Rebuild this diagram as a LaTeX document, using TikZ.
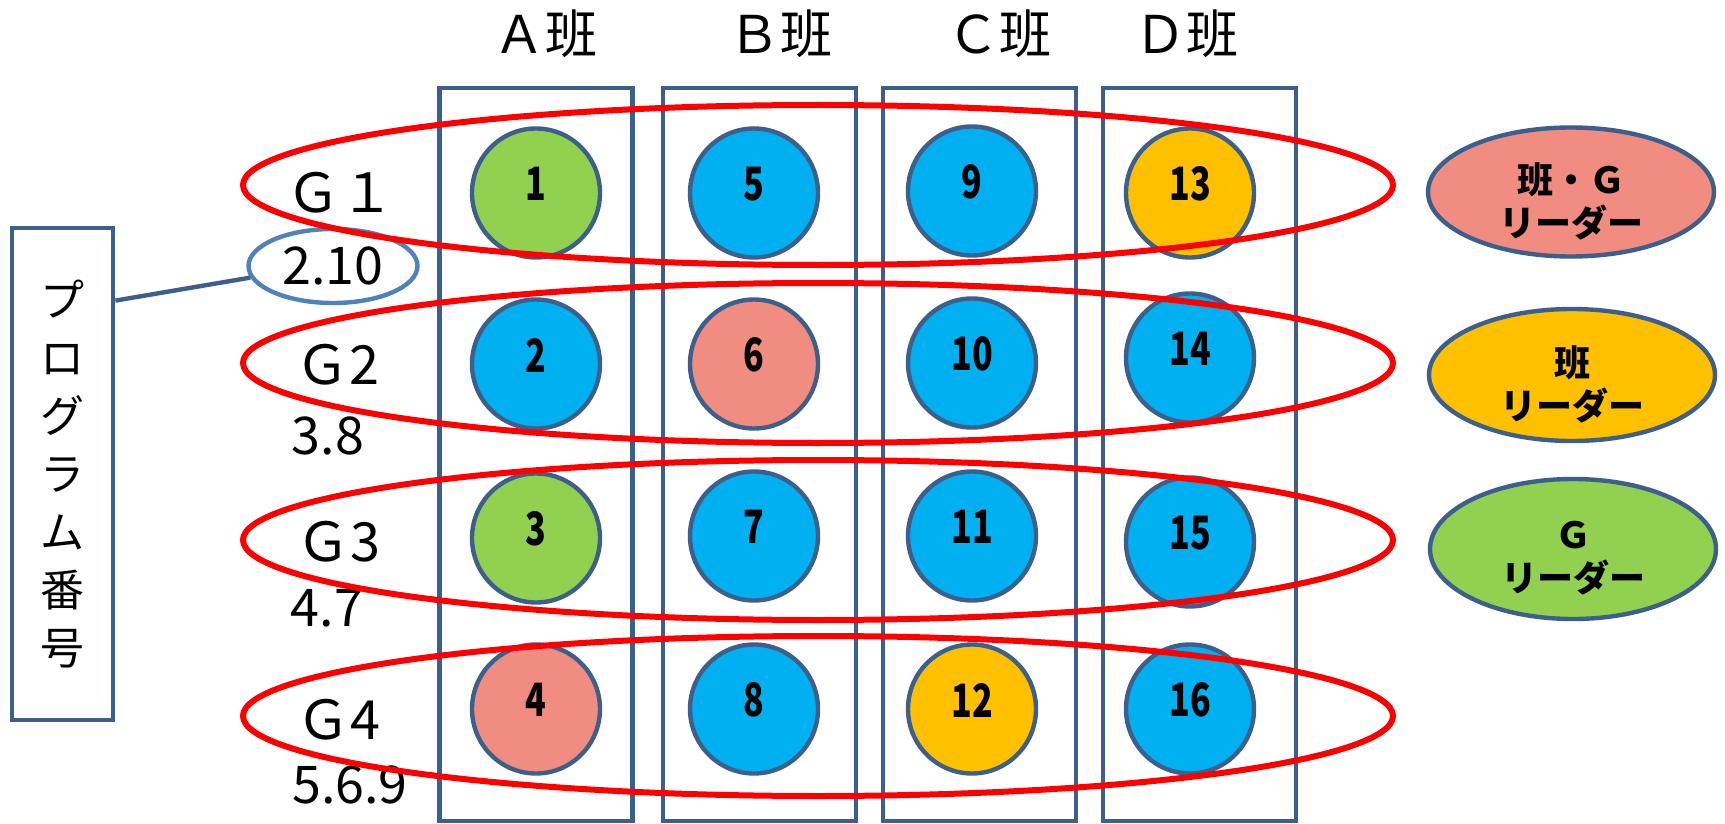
\documentclass[tikz,border=0pt]{standalone}
\usepackage{fontspec}
\usepackage{graphicx}
\setmainfont{Noto Sans CJK JP}
\usetikzlibrary{shapes.geometric}
\definecolor{edgeblue}{HTML}{3D5F8C}
\definecolor{lightedge}{HTML}{4F81BD}
\definecolor{cyanf}{HTML}{00B0F0}
\definecolor{greenf}{HTML}{92D050}
\definecolor{salmonf}{HTML}{F08C80}
\definecolor{orangef}{HTML}{FFC000}
\definecolor{redl}{HTML}{FF0000}
\newcommand{\nmq}[1]{\scalebox{0.74}[1]{#1}}
\begin{document}
\begin{tikzpicture}[x=0.5pt,y=-0.5pt,
  colbox/.style={draw=edgeblue,line width=2.4pt,minimum width=96.5pt,minimum height=366.5pt,inner sep=0pt},
  mem/.style={ellipse,draw=edgeblue,line width=2.2pt,minimum width=64pt,minimum height=64.5pt,inner sep=0pt},
  num/.style={font=\bfseries\fontsize{23}{23}\selectfont,inner sep=0pt,yshift=4.5pt},
  grp/.style={ellipse,draw=redl,line width=3pt,minimum width=575pt,minimum height=80pt,inner sep=0pt},
  head/.style={font=\fontsize{26}{26}\selectfont,inner sep=0pt},
  glab/.style={font=\fontsize{27}{27}\selectfont,inner sep=0pt},
  plab/.style={font=\fontsize{26}{26}\selectfont,inner sep=0pt},
  leg/.style={ellipse,draw=edgeblue,line width=2.2pt,inner sep=0pt,minimum width=143pt},
  legtxt/.style={font=\bfseries\fontsize{18}{21.5}\selectfont,align=center,inner sep=0pt,yshift=-4.5pt}
]
\fill[white] (0,0) rectangle (1725,824);
\useasboundingbox (0,0) rectangle (1725,824);

% headers
\node[head] (hA) at (545,34) {Ａ班};
\node[head] (hB) at (780,34) {Ｂ班};
\node[head] (hC) at (999,34) {Ｃ班};
\node[head] (hD) at (1186,34) {Ｄ班};

% column boxes
\node[colbox] (bA) at (536,454.5) {};
\node[colbox] (bB) at (759.5,454.5) {};
\node[colbox] (bC) at (979.5,454.5) {};
\node[colbox] (bD) at (1199.5,454.5) {};

% members
\node[mem,fill=greenf,label={[num]center:\nmq{1}}] (m1) at (536,193) {};
\node[mem,fill=cyanf,label={[num]center:\nmq{2}}] (m2) at (536,364) {};
\node[mem,fill=greenf,label={[num]center:\nmq{3}}] (m3) at (536,538) {};
\node[mem,fill=salmonf,label={[num]center:\nmq{4}}] (m4) at (536,709) {};
\node[mem,fill=cyanf,label={[num]center:\nmq{5}}] (m5) at (754,193) {};
\node[mem,fill=salmonf,label={[num]center:\nmq{6}}] (m6) at (754,364) {};
\node[mem,fill=cyanf,label={[num]center:\nmq{7}}] (m7) at (754,536) {};
\node[mem,fill=cyanf,label={[num]center:\nmq{8}}] (m8) at (754,709) {};
\node[mem,fill=cyanf,label={[num]center:\nmq{9}}] (m9) at (972,191) {};
\node[mem,fill=cyanf,label={[num]center:\nmq{10}}] (m10) at (972,363) {};
\node[mem,fill=cyanf,label={[num]center:\nmq{11}}] (m11) at (972,536) {};
\node[mem,fill=orangef,label={[num]center:\nmq{12}}] (m12) at (972,709) {};
\node[mem,fill=orangef,label={[num]center:\nmq{13}}] (m13) at (1190,193) {};
\node[mem,fill=cyanf,label={[num]center:\nmq{14}}] (m14) at (1190,358) {};
\node[mem,fill=cyanf,label={[num]center:\nmq{15}}] (m15) at (1190,542) {};
\node[mem,fill=cyanf,label={[num]center:\nmq{16}}] (m16) at (1190,709) {};

% program number box
\node[draw=edgeblue,line width=2.4pt,minimum width=50.5pt,minimum height=246pt,inner sep=0pt,
      align=center,font=\fontsize{22}{29}\selectfont] (pbox) at (62.5,474)
      {プ\\ロ\\グ\\ラ\\ム\\番\\号};

% group labels
\node[glab] (gl1) at (340,193) {Ｇ１};
\node[glab] (gl2) at (337,365) {Ｇ2};
\node[glab] (gl3) at (338,542) {Ｇ3};
\node[glab] (gl4) at (338,720) {Ｇ4};

\node[ellipse,draw=lightedge,line width=2.2pt,minimum width=84.5pt,minimum height=37pt,inner sep=0pt,
      font=\fontsize{26}{26}\selectfont] (e210) at (333,266) {2.10};
\node[plab] (n38) at (328,436) {3.8};
\node[plab] (n47) at (327,608) {4.7};
\node[plab] (n569) at (350,785) {5.6.9};

\draw[edgeblue,line width=2.2pt] ([yshift=-37.5pt]pbox.north east) -- (e210.188);

% group ellipses
\node[grp] (g1) at (818,185) {};
\node[grp] (g2) at (818,363) {};
\node[grp] (g3) at (818,540) {};
\node[grp] (g4) at (818,716) {};

% legend
\node[leg,fill=salmonf,minimum height=64.5pt,label={[legtxt]center:班・Ｇ\\リーダー}] (l1) at (1571,192) {};
\node[leg,fill=orangef,minimum height=66pt,label={[legtxt]center:班\\リーダー}] (l2) at (1572,375) {};
\node[leg,fill=greenf,minimum height=70pt,label={[legtxt]center:Ｇ\\リーダー}] (l3) at (1573,549) {};
\end{tikzpicture}
\end{document}
